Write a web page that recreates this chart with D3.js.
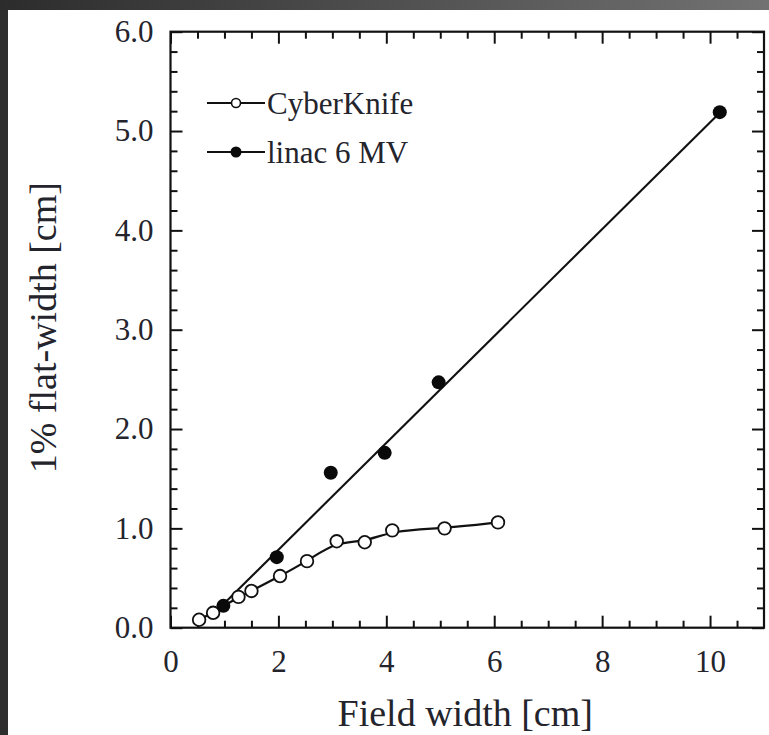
<!DOCTYPE html>
<html>
<head>
<meta charset="utf-8">
<script src="https://cdn.jsdelivr.net/npm/d3@7"></script>
<style>
  html, body { margin: 0; padding: 0; background: #2e2e2e; }
  svg { display: block; }
  text { font-family: "Liberation Serif", "Times New Roman", serif; fill: #24242c; }
</style>
</head>
<body>
<svg id="chart" width="769" height="735"></svg>
<script>
// Measured flat widths (1% criterion) versus field width
const cyberX = [0.53, 0.79, 1.26, 1.50, 2.03, 2.53, 3.08, 3.60, 4.11, 5.08, 6.07];
const cyberY = [0.08, 0.15, 0.31, 0.37, 0.52, 0.67, 0.87, 0.86, 0.98, 1.00, 1.06];

const linacX = [0.98, 1.97, 2.97, 3.97, 4.97, 10.18];
const linacY = [0.22, 0.71, 1.56, 1.76, 2.47, 5.19];

// Straight-line fit through the linac points (end points)
const linacFitX = [0.82, 10.19];
const linacFitY = [0.15, 5.19];

// Axis ticks and labels
const xMajorTicks = [0, 2, 4, 6, 8, 10];
const xTickLabels = ["0", "2", "4", "6", "8", "10"];
const xMinorTicks = [0.5, 1, 1.5, 2.5, 3, 3.5, 4.5, 5, 5.5, 6.5, 7, 7.5, 8.5, 9, 9.5, 10.5];
const yMajorTicks = [0, 1, 2, 3, 4, 5, 6];
const yTickLabels = ["0.0", "1.0", "2.0", "3.0", "4.0", "5.0", "6.0"];
const yMinorTicks = [0.2, 0.4, 0.6, 0.8, 1.2, 1.4, 1.6, 1.8, 2.2, 2.4, 2.6, 2.8,
                     3.2, 3.4, 3.6, 3.8, 4.2, 4.4, 4.6, 4.8, 5.2, 5.4, 5.6, 5.8];

const seriesNames = ["CyberKnife", "linac 6 MV"];
const xTitle = "Field width [cm]";
const yTitle = "1% flat-width [cm]";

const svg = d3.select("#chart");
const W = 769, H = 735;

// Page frame: dark strip along the top and left, white sheet behind the chart
const defs = svg.append("defs");
const grad = defs.append("linearGradient").attr("id", "topband")
  .attr("x1", "0").attr("x2", "1").attr("y1", "0").attr("y2", "0");
grad.append("stop").attr("offset", "0").attr("stop-color", "#2c2c2c");
grad.append("stop").attr("offset", "1").attr("stop-color", "#727272");
svg.append("rect").attr("x", 0).attr("y", 0).attr("width", W).attr("height", H).attr("fill", "#2e2e2e");
svg.append("rect").attr("x", 0).attr("y", 0).attr("width", W).attr("height", 10).attr("fill", "url(#topband)");
svg.append("rect").attr("x", 8).attr("y", 10).attr("width", W - 8).attr("height", H - 10).attr("fill", "#ffffff");

const plot = { left: 170.5, right: 764, top: 31.7, bottom: 627.7 };

const x = d3.scaleLinear().domain([0, 11]).range([plot.left, plot.right]);
const y = d3.scaleLinear().domain([0, 6]).range([plot.bottom, plot.top]);

const MAJ = 12, MIN = 7;

function styleAxis(g) {
  g.select(".domain").remove();
  g.selectAll(".tick line").attr("stroke", "#111").attr("stroke-width", 2);
  g.selectAll(".tick text").style("font-size", "31px").attr("fill", "#24242c");
}

// Bottom axis (labels) + minor ticks
svg.append("g").attr("transform", `translate(0,${plot.bottom})`)
  .call(d3.axisBottom(x).tickValues(xMajorTicks).tickSize(-MAJ).tickPadding(22)
    .tickFormat((d, i) => xTickLabels[i]))
  .call(styleAxis);
svg.append("g").attr("transform", `translate(0,${plot.bottom})`)
  .call(d3.axisBottom(x).tickValues(xMinorTicks).tickSize(-MIN).tickFormat(""))
  .call(styleAxis);

// Top axis, ticks only
svg.append("g").attr("transform", `translate(0,${plot.top})`)
  .call(d3.axisTop(x).tickValues(xMajorTicks).tickSize(-MAJ).tickFormat(""))
  .call(styleAxis);
svg.append("g").attr("transform", `translate(0,${plot.top})`)
  .call(d3.axisTop(x).tickValues(xMinorTicks).tickSize(-MIN).tickFormat(""))
  .call(styleAxis);

// Left axis (labels) + minor ticks
svg.append("g").attr("transform", `translate(${plot.left},0)`)
  .call(d3.axisLeft(y).tickValues(yMajorTicks).tickSize(-MAJ).tickPadding(17)
    .tickFormat((d, i) => yTickLabels[i]))
  .call(styleAxis);
svg.append("g").attr("transform", `translate(${plot.left},0)`)
  .call(d3.axisLeft(y).tickValues(yMinorTicks).tickSize(-MIN).tickFormat(""))
  .call(styleAxis);

// Right axis, ticks only
svg.append("g").attr("transform", `translate(${plot.right},0)`)
  .call(d3.axisRight(y).tickValues(yMajorTicks).tickSize(-MAJ).tickFormat(""))
  .call(styleAxis);
svg.append("g").attr("transform", `translate(${plot.right},0)`)
  .call(d3.axisRight(y).tickValues(yMinorTicks).tickSize(-MIN).tickFormat(""))
  .call(styleAxis);

// Plot frame
svg.append("rect")
  .attr("x", plot.left).attr("y", plot.top)
  .attr("width", plot.right - plot.left).attr("height", plot.bottom - plot.top)
  .attr("fill", "none").attr("stroke", "#111").attr("stroke-width", 2.2);

// Linac fit line
const fitPts = linacFitX.map((v, i) => [v, linacFitY[i]]);
svg.append("path")
  .attr("d", d3.line().x(d => x(d[0])).y(d => y(d[1]))(fitPts))
  .attr("fill", "none").attr("stroke", "#111").attr("stroke-width", 2.1);

// CyberKnife smoothed curve
const cyberPts = cyberX.map((v, i) => [v, cyberY[i]]);
svg.append("path")
  .attr("d", d3.line().curve(d3.curveBasis).x(d => x(d[0])).y(d => y(d[1]))(cyberPts))
  .attr("fill", "none").attr("stroke", "#111").attr("stroke-width", 2.2);

// CyberKnife markers (open)
svg.append("g").selectAll("circle").data(cyberPts).join("circle")
  .attr("cx", d => x(d[0])).attr("cy", d => y(d[1])).attr("r", 6.3)
  .attr("fill", "#fff").attr("stroke", "#111").attr("stroke-width", 1.8);

// Linac markers (filled)
const linacPts = linacX.map((v, i) => [v, linacY[i]]);
svg.append("g").selectAll("circle").data(linacPts).join("circle")
  .attr("cx", d => x(d[0])).attr("cy", d => y(d[1])).attr("r", 7)
  .attr("fill", "#0a0a0a");

// Legend
const legend = svg.append("g").attr("transform", "translate(207,0)");
const legendRows = [
  { name: seriesNames[0], filled: false, cy: 103, base: 114 },
  { name: seriesNames[1], filled: true, cy: 152, base: 163 }
];
legendRows.forEach(r => {
  legend.append("line").attr("x1", 0).attr("x2", 58).attr("y1", r.cy).attr("y2", r.cy)
    .attr("stroke", "#111").attr("stroke-width", 2.2);
  legend.append("circle").attr("cx", 29).attr("cy", r.cy).attr("r", r.filled ? 5.5 : 4.5)
    .attr("fill", r.filled ? "#0a0a0a" : "#fff").attr("stroke", "#111")
    .attr("stroke-width", r.filled ? 0 : 1.6);
  legend.append("text").attr("x", 60).attr("y", r.base)
    .style("font-size", "31px").text(r.name);
});

// Axis titles
svg.append("text").attr("x", (plot.left + plot.right) / 2 - 2).attr("y", 726)
  .attr("text-anchor", "middle").style("font-size", "38px").text(xTitle);
svg.append("text")
  .attr("transform", `translate(56,${(plot.top + plot.bottom) / 2 - 2}) rotate(-90)`)
  .attr("text-anchor", "middle").style("font-size", "38px").text(yTitle);
</script>
</body>
</html>
